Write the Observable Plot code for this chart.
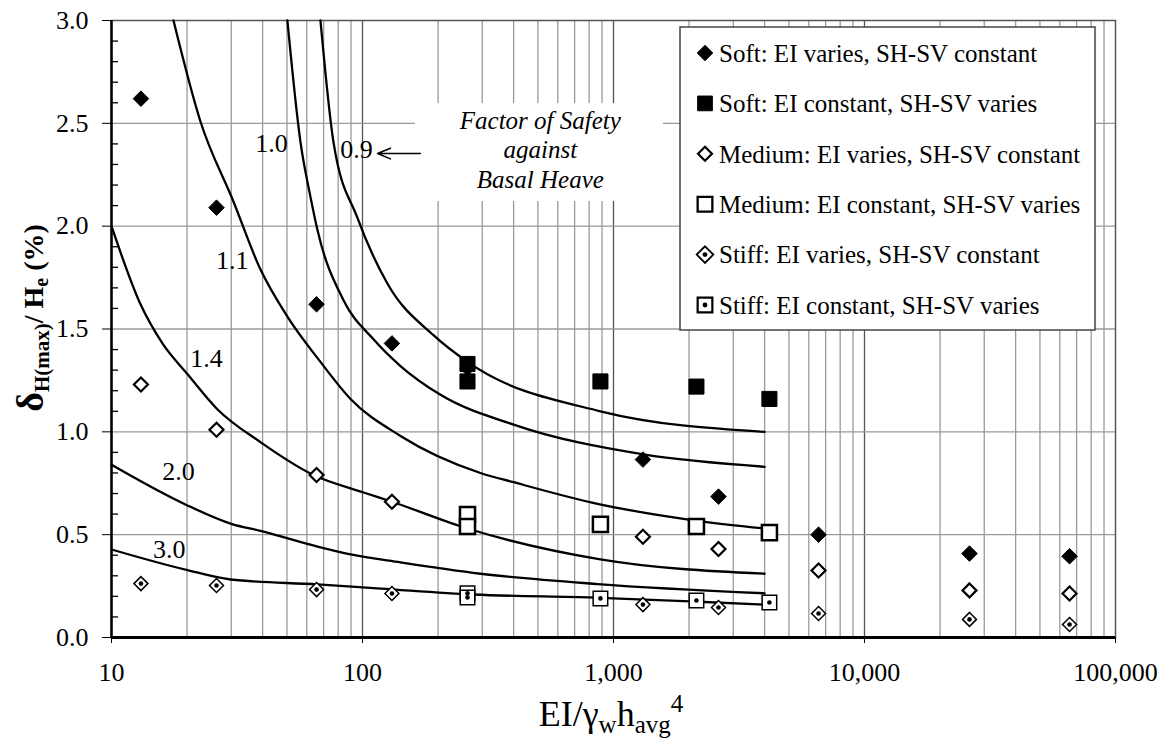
<!DOCTYPE html>
<html>
<head>
<meta charset="utf-8">
<script src="https://cdn.jsdelivr.net/npm/d3@7"></script>
<script src="https://cdn.jsdelivr.net/npm/@observablehq/plot@0.6"></script>
<style>
  html, body { margin: 0; padding: 0; background: #fff; }
  #chart { position: relative; width: 1169px; height: 748px; }
</style>
</head>
<body>
<div id="chart"></div>
<script>
// ---------------- DATA ----------------
const seriesNames = [
  "Soft: EI varies, SH-SV constant",
  "Soft: EI constant, SH-SV varies",
  "Medium: EI varies, SH-SV constant",
  "Medium: EI constant, SH-SV varies",
  "Stiff: EI varies, SH-SV constant",
  "Stiff: EI constant, SH-SV varies"
];

// EI varies (SH-SV constant)
const softEIVariesX = [13.1, 26.2, 65.6, 131, 262, 1310, 2620, 6560, 26200, 65600];
const softEIVariesY = [2.62, 2.09, 1.62, 1.43, 1.31, 0.865, 0.685, 0.50, 0.408, 0.395];
const mediumEIVariesX = [13.1, 26.2, 65.6, 131, 1310, 2620, 6560, 26200, 65600];
const mediumEIVariesY = [1.23, 1.01, 0.79, 0.66, 0.49, 0.43, 0.326, 0.229, 0.214];
const stiffEIVariesX = [13.1, 26.2, 65.6, 131, 1310, 2620, 6560, 26200, 65600];
const stiffEIVariesY = [0.262, 0.253, 0.233, 0.214, 0.16, 0.146, 0.117, 0.088, 0.063];

// EI constant (SH-SV varies)
const softEIConstX = [262, 262, 887, 2140, 4180];
const softEIConstY = [1.33, 1.245, 1.245, 1.22, 1.16];
const mediumEIConstX = [262, 262, 887, 2140, 4180];
const mediumEIConstY = [0.598, 0.54, 0.55, 0.54, 0.51];
const stiffEIConstX = [262, 262, 887, 2140, 4180];
const stiffEIConstY = [0.215, 0.195, 0.19, 0.18, 0.17];

// Factor of safety against basal heave curves
const fsNames = ["0.9", "1.0", "1.1", "1.4", "2.0", "3.0"];
const fs09X = [68.0, 76.6, 95.5, 125.8, 191.7, 262, 887, 4000];
const fs09Y = [3.0, 2.41, 2.04, 1.72, 1.47, 1.34, 1.10, 1.0];
const fs10X = [50.2, 56.6, 62.1, 66.2, 84.0, 110.6, 141.7, 204.6, 400, 1317, 4000];
const fs10Y = [3.0, 2.41, 2.14, 1.98, 1.64, 1.45, 1.32, 1.18, 1.035, 0.89, 0.83];
const fs11X = [17.66, 22.6, 30.6, 39.2, 50.2, 68.0, 89.6, 141.7, 295, 400, 863, 2083, 4000];
const fs11Y = [3.0, 2.51, 2.12, 1.79, 1.56, 1.34, 1.16, 0.98, 0.80, 0.755, 0.65, 0.57, 0.53];
const fs14X = [10, 13.05, 15.96, 20.1, 26.4, 39.2, 63.8, 101, 131, 262, 887, 4000];
const fs14Y = [2.0, 1.62, 1.43, 1.28, 1.11, 0.95, 0.79, 0.705, 0.66, 0.53, 0.38, 0.31];
const fs20X = [10, 19.7, 29.8, 40.3, 66.2, 89.6, 141.7, 295, 863, 4000];
const fs20Y = [0.84, 0.647, 0.554, 0.515, 0.442, 0.404, 0.365, 0.31, 0.26, 0.215];
const fs30X = [10, 19.7, 29.8, 66.2, 118, 277, 832, 2083, 4000];
const fs30Y = [0.428, 0.33, 0.282, 0.258, 0.238, 0.209, 0.194, 0.175, 0.16];

// curve label positions (data coords)
const fsLabelX = [94.6, 43.4, 30.3, 23.9, 18.5, 17.0];
const fsLabelY = [2.37, 2.40, 1.83, 1.356, 0.807, 0.428];

// annotation
const noteText = "Factor of Safety\nagainst\nBasal Heave";
const noteX = [511];
const noteY = [2.375];
const noteBoxX = [162.6, 1582];
const noteBoxY = [2.12, 2.596];
const arrowX = [170, 114.8];
const arrowY = [2.353, 2.353];

// axes ticks
const xTicks = [10, 100, 1000, 10000, 100000];
const yTicks = [0, 0.5, 1.0, 1.5, 2.0, 2.5, 3.0];
const yMinor = [0.1,0.2,0.3,0.4,0.6,0.7,0.8,0.9,1.1,1.2,1.3,1.4,1.6,1.7,1.8,1.9,2.1,2.2,2.3,2.4,2.6,2.7,2.8,2.9];
const xGrid = [];
for (const d of [10, 100, 1000, 10000]) for (let m = 1; m <= 9; m++) { const v = d * m; if (v > 10) xGrid.push(v); }
const yGrid = [0.5, 1.0, 1.5, 2.0, 2.5];

// ---------------- BUILD ----------------
const pts = (xs, ys) => xs.map((x, i) => ({x, y: ys[i]}));
const curveRows = [];
[[fs09X, fs09Y], [fs10X, fs10Y], [fs11X, fs11Y], [fs14X, fs14Y], [fs20X, fs20Y], [fs30X, fs30Y]]
  .forEach(([xs, ys], k) => xs.forEach((x, i) => curveRows.push({fs: fsNames[k], x, y: ys[i]})));
const labelRows = fsNames.map((t, i) => ({t, x: fsLabelX[i], y: fsLabelY[i]}));

const FONT = "'Liberation Serif', 'Times New Roman', serif";
const isDecade = v => Math.abs(Math.log10(v) - Math.round(Math.log10(v))) < 1e-9;

const plot = Plot.plot({
  width: 1169,
  height: 748,
  marginLeft: 111,
  marginRight: 54,
  marginTop: 20,
  marginBottom: 111,
  x: {type: "log", domain: [10, 100000]},
  y: {domain: [0, 3]},
  style: {fontFamily: FONT, background: "#fff", color: "#000", overflow: "visible"},
  marks: [
    Plot.ruleX(xGrid, {stroke: d => isDecade(d) ? "#555" : "#9a9a9a", strokeWidth: 1.3}),
    Plot.ruleY(yGrid, {stroke: "#9a9a9a", strokeWidth: 1.3}),
    Plot.rect([0], {x1: () => noteBoxX[0], x2: () => noteBoxX[1], y1: () => noteBoxY[0], y2: () => noteBoxY[1], fill: "white"}),
    Plot.frame({stroke: "#555", strokeWidth: 1.5}),
    Plot.ruleX([10], {stroke: "black", strokeWidth: 2.5}),
    Plot.ruleY([0], {stroke: "black", strokeWidth: 3}),
    Plot.tickY(yMinor, {stroke: "black", strokeWidth: 1.3, insetRight: 997}),
    Plot.line(curveRows, {x: "x", y: "y", z: "fs", stroke: "black", strokeWidth: 2.3, curve: "monotone-x"}),
    Plot.text(labelRows, {x: "x", y: "y", text: "t", fontSize: 26, fill: "black"}),
    Plot.text([noteText], {x: () => noteX[0], y: () => noteY[0], text: d => d, fontSize: 25, fontStyle: "italic", lineHeight: 1.17, fill: "black"}),
    Plot.arrow([0], {x1: () => arrowX[0], y1: () => arrowY[0], x2: () => arrowX[1], y2: () => arrowY[1], stroke: "black", strokeWidth: 1.5, headLength: 14, headAngle: 45}),
    // points
    Plot.dot(pts(softEIVariesX, softEIVariesY), {x: "x", y: "y", symbol: "diamond2", r: 7, fill: "black", stroke: "black", strokeWidth: 1}),
    Plot.dot(pts(softEIConstX, softEIConstY), {x: "x", y: "y", symbol: "square", r: 8.5, fill: "black", stroke: "black", strokeWidth: 1}),
    Plot.dot(pts(mediumEIVariesX, mediumEIVariesY), {x: "x", y: "y", symbol: "diamond2", r: 6.3, fill: "white", stroke: "black", strokeWidth: 2.2}),
    Plot.dot(pts(mediumEIConstX, mediumEIConstY), {x: "x", y: "y", symbol: "square", r: 8.5, fill: "white", stroke: "black", strokeWidth: 2.5}),
    Plot.dot(pts(stiffEIVariesX, stiffEIVariesY), {x: "x", y: "y", symbol: "diamond2", r: 6.3, fill: "white", stroke: "black", strokeWidth: 1.5}),
    Plot.dot(pts(stiffEIVariesX, stiffEIVariesY), {x: "x", y: "y", r: 2.3, fill: "black"}),
    Plot.dot(pts(stiffEIConstX, stiffEIConstY), {x: "x", y: "y", symbol: "square", r: 8.2, fill: "white", stroke: "black", strokeWidth: 1.5}),
    Plot.dot(pts(stiffEIConstX, stiffEIConstY), {x: "x", y: "y", r: 2.3, fill: "black"}),
    // axes
    Plot.axisY({ticks: yTicks, tickFormat: d3.format(".1f"), tickSize: 9, tickPadding: 14, fontSize: 26, label: null}),
    Plot.axisX({ticks: xTicks, tickFormat: d3.format(","), tickSize: 6, tickPadding: 19, fontSize: 26, label: null})
  ]
});

document.getElementById("chart").appendChild(plot);

// ---------------- LABELS & LEGEND (layout) ----------------
const svg = d3.select(plot);

// y axis title
const yl = svg.append("text")
  .attr("transform", "translate(43,318) rotate(-90)")
  .attr("text-anchor", "middle")
  .attr("font-family", FONT)
  .attr("font-weight", "bold")
  .attr("fill", "black");
yl.append("tspan").attr("font-size", 38).text("δ");
yl.append("tspan").attr("font-size", 21).attr("dy", 6).text("H(max)");
yl.append("tspan").attr("font-size", 28).attr("dy", -6).text("/ H");
yl.append("tspan").attr("font-size", 20).attr("dy", 5).text("e");
yl.append("tspan").attr("font-size", 28).attr("dy", -5).text(" (%)");

// x axis title
const xl = svg.append("text")
  .attr("x", 611).attr("y", 726)
  .attr("text-anchor", "middle")
  .attr("font-family", FONT)
  .attr("font-size", 36)
  .attr("fill", "black");
xl.append("tspan").text("EI/γ");
xl.append("tspan").attr("font-size", 25).attr("dy", 7).text("w");
xl.append("tspan").attr("dy", -7).text("h");
xl.append("tspan").attr("font-size", 25).attr("dy", 7).text("avg");
xl.append("tspan").attr("font-size", 25).attr("dy", -21).text("4");

// legend
const lg = svg.append("g").attr("font-family", FONT).attr("text-anchor", "start");
lg.append("rect").attr("x", 680).attr("y", 27).attr("width", 415).attr("height", 303)
  .attr("fill", "white").attr("stroke", "#444").attr("stroke-width", 1.5);
const sym = (type, r) => d3.symbol(type, r * r * Math.PI)();
const legendStyles = [
  {type: d3.symbolDiamond2, r: 7, fill: "black", sw: 1, dot: false},
  {type: d3.symbolSquare, r: 8.3, fill: "black", sw: 1, dot: false},
  {type: d3.symbolDiamond2, r: 6.3, fill: "white", sw: 2.2, dot: false},
  {type: d3.symbolSquare, r: 8.3, fill: "white", sw: 2.3, dot: false},
  {type: d3.symbolDiamond2, r: 7.5, fill: "white", sw: 1.8, dot: true},
  {type: d3.symbolSquare, r: 8.3, fill: "white", sw: 2.2, dot: true}
];
seriesNames.forEach((name, i) => {
  const cy = 53 + i * 50.4;
  const s = legendStyles[i];
  lg.append("path").attr("d", sym(s.type, s.r)).attr("transform", `translate(705,${cy})`)
    .attr("fill", s.fill).attr("stroke", "black").attr("stroke-width", s.sw);
  if (s.dot) lg.append("circle").attr("cx", 705).attr("cy", cy).attr("r", 2.4).attr("fill", "black");
  lg.append("text").attr("x", 719).attr("y", cy).attr("dy", "0.35em")
    .attr("text-anchor", "start")
    .attr("font-size", 25).attr("fill", "black").text(name);
});
</script>
</body>
</html>
